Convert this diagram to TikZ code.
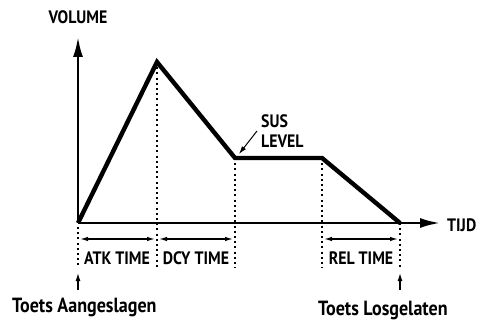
\documentclass[tikz,border=0pt]{standalone}
\usepackage{fontspec}
\setmainfont{PT Sans}[FakeStretch=0.88]
\usetikzlibrary{arrows.meta}

\begin{document}
\begin{tikzpicture}[x=1pt,y=-1pt,font=\bfseries\fontsize{18}{20}\selectfont]
% Styles
\tikzstyle{enveloppe}=[line width=4.4pt,line join=miter]
\tikzstyle{axe}=[-{Latex[length=20pt,width=10pt]},line width=2.4pt]
\tikzstyle{pointille}=[line width=2pt,dash pattern=on 2pt off 3.2pt]
\tikzstyle{duree}=[{Latex[length=8pt,width=4.5pt]}-{Latex[length=8pt,width=4.5pt]},line width=1.3pt]
\tikzstyle{repere}=[-{Latex[length=8pt,width=5pt]},line width=1.3pt]
\tikzstyle{texte}=[inner sep=0pt]
% Cadre
\useasboundingbox (0,0) rectangle (486,320);
% Hauteurs
\def\base{223}
\def\fleche{239}
\def\bas{268}
% Points de l'enveloppe
\coordinate (O) at (78,\base);
\coordinate (haut) at (78,37);
\coordinate (fin) at (440,\base);
\coordinate (pic) at (157,62);
\coordinate (sus1) at (235,158);
\coordinate (sus2) at (322,158);
\coordinate (rel) at (400,\base);
% Pieds des pointilles
\coordinate (pO) at (78,\bas);
\coordinate (ppic) at (157,\bas);
\coordinate (psus1) at (235,\bas);
\coordinate (psus2) at (322,\bas);
\coordinate (prel) at (400,\bas);
% Durees
\coordinate (a1) at (80,\fleche);
\coordinate (a2) at (155,\fleche);
\coordinate (d1) at (159,\fleche);
\coordinate (d2) at (233,\fleche);
\coordinate (r1) at (324,\fleche);
\coordinate (r2) at (398,\fleche);
% Textes
\node[texte] (volume) at (78,17) {VOLUME};
\node[texte,anchor=west] (tijd) at (447,225) {TIJD};
\node[texte,anchor=west,align=left] (sus) at (261,131) {SUS\\LEVEL};
\node[texte] (atk) at (117,258) {ATK TIME};
\node[texte] (dcy) at (196,258) {DCY TIME};
\node[texte] (rtime) at (361,258) {REL TIME};
\node[texte,anchor=base west,font=\bfseries\fontsize{20.5}{22}\selectfont] (aanslag) at (12,312) {Toets Aangeslagen};
\node[texte,anchor=base west,font=\bfseries\fontsize{20.5}{22}\selectfont] (los) at (318,315) {Toets Losgelaten};
\coordinate (aanslagvoet) at (78,290);
\coordinate (aanslagpunt) at (78,273);
\coordinate (losvoet) at (400,290);
\coordinate (lospunt) at (400,273);
\coordinate (susvoet) at (257,131);
\coordinate (suspunt) at (239,154);
% Pointilles
\draw[pointille] (78,227) -- (pO);
\draw[pointille] (pic) -- (ppic);
\draw[pointille] (sus1) -- (psus1);
\draw[pointille] (sus2) -- (psus2);
\draw[pointille] (rel) -- (prel);
% Axes
\draw[axe] (O) -- (haut);
\draw[axe] (O) -- (fin);
% Enveloppe
\draw[enveloppe] (O) -- (pic) -- (sus1) -- (sus2) -- (rel);
% Fleches
\draw[duree] (a1) -- (a2);
\draw[duree] (d1) -- (d2);
\draw[duree] (r1) -- (r2);
\draw[repere] (aanslagvoet) -- (aanslagpunt);
\draw[repere] (losvoet) -- (lospunt);
\draw[repere,line width=1pt] (susvoet) -- (suspunt);
\end{tikzpicture}
\end{document}
